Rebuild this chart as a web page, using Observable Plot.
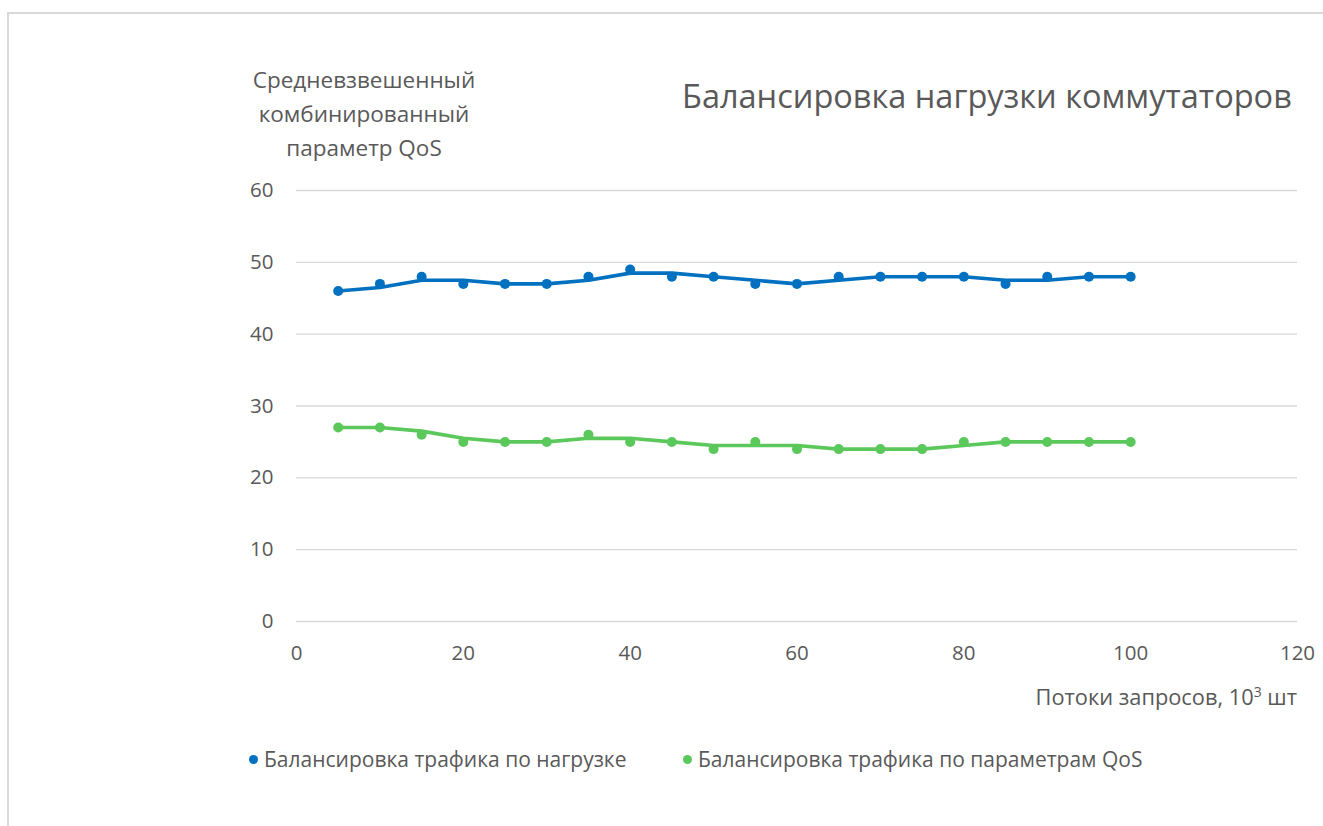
<!DOCTYPE html>
<html>
<head>
<meta charset="utf-8">
<script src="https://cdn.jsdelivr.net/npm/d3@7"></script>
<script src="https://cdn.jsdelivr.net/npm/@observablehq/plot@0.6"></script>
<style>
  body { margin: 0; background: #fff; font-family: "Open Sans", sans-serif; color: #595959; }
  #wrap { position: relative; width: 1323px; height: 826px; overflow: hidden; }
  #frame { position: absolute; left: 7px; top: 12px; width: 1330px; height: 830px; border: 2px solid #d9d9d9; box-sizing: border-box; }
  #chart { position: absolute; left: 0; top: 0; }
  .t { position: absolute; white-space: nowrap; color: #595959; }
  #title { left: 682px; top: 74px; font-size: 32.5px; line-height: 44px; }
  #ytitle { left: 224px; top: 63px; width: 280px; text-align: center; font-size: 22.5px; line-height: 34px; }
  #xtitle { right: 26px; top: 682px; font-size: 21.8px; line-height: 30px; }
  #xtitle sup { font-size: 14px; vertical-align: 8px; line-height: 0; }
  .leg { top: 745px; font-size: 21px; line-height: 29px; }
  .leg span.dot { display: inline-block; width: 9px; height: 9px; border-radius: 50%; margin-right: 6px; vertical-align: 3px; }
</style>
</head>
<body>
<div id="wrap">
  <div id="frame"></div>
  <div id="chart"></div>
  <div class="t" id="title">Балансировка нагрузки коммутаторов</div>
  <div class="t" id="ytitle">Средневзвешенный<br>комбинированный<br>параметр QoS</div>
  <div class="t" id="xtitle">Потоки запросов, 10<sup>3</sup> шт</div>
  <div class="t leg" style="left:249px"><span class="dot" style="background:#0070c0"></span>Балансировка трафика по нагрузке</div>
  <div class="t leg" style="left:683px"><span class="dot" style="background:#5bc85b"></span>Балансировка трафика по параметрам QoS</div>
</div>
<script>
const flows = [5, 10, 15, 20, 25, 30, 35, 40, 45, 50, 55, 60, 65, 70, 75, 80, 85, 90, 95, 100];
const loadBalancing = [46, 47, 48, 47, 47, 47, 48, 49, 48, 48, 47, 47, 48, 48, 48, 48, 47, 48, 48, 48];
const qosBalancing  = [27, 27, 26, 25, 25, 25, 26, 25, 25, 24, 25, 24, 24, 24, 24, 25, 25, 25, 25, 25];
const seriesNames = ["Балансировка трафика по нагрузке", "Балансировка трафика по параметрам QoS"];
const seriesColors = ["#0070c0", "#5bc85b"];
const xTicks = [0, 20, 40, 60, 80, 100, 120];
const yTicks = [0, 10, 20, 30, 40, 50, 60];

const data = [];
flows.forEach((f, i) => {
  data.push({x: f, y: loadBalancing[i], s: seriesNames[0]});
  data.push({x: f, y: qosBalancing[i], s: seriesNames[1]});
});

const plot = Plot.plot({
  width: 1323,
  height: 826,
  marginLeft: 296,
  marginRight: 26,
  marginTop: 190,
  marginBottom: 205,
  style: {fontFamily: "Open Sans, sans-serif", fontSize: "20px", color: "#595959", background: "transparent", overflow: "visible"},
  x: {domain: [0, 120], label: null},
  y: {domain: [0, 60], label: null},
  color: {domain: seriesNames, range: seriesColors},
  marks: [
    Plot.gridY(yTicks, {stroke: "#d9d9d9", strokeOpacity: 1, strokeWidth: 1.3}),
    Plot.axisX({ticks: xTicks, tickSize: 0, tickPadding: 24, fill: "#595959", fontSize: 20.5, label: null}),
    Plot.axisY({ticks: yTicks, tickSize: 0, tickPadding: 23, fill: "#595959", fontSize: 20.5, label: null}),
    Plot.line(data, Plot.windowY({k: 2, anchor: "end", reduce: "mean"}, {x: "x", y: "y", z: "s", stroke: "s", strokeWidth: 3.6})),
    Plot.dot(data, {x: "x", y: "y", fill: "s", r: 5})
  ]
});
document.getElementById("chart").appendChild(plot);
</script>
</body>
</html>
